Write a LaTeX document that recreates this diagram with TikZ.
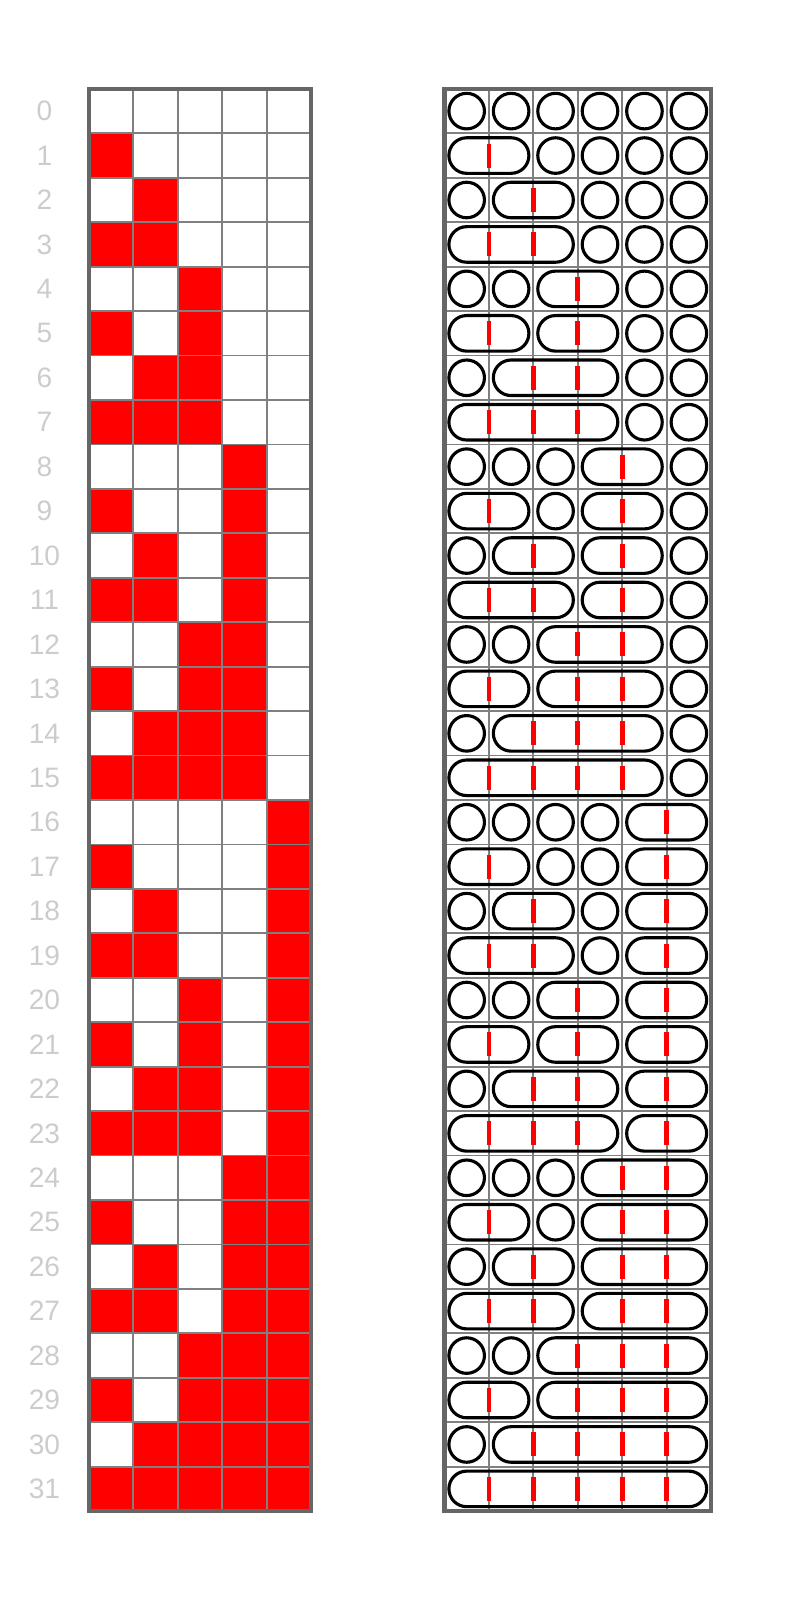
\documentclass[tikz,border=0pt]{standalone}
\usepackage{fontspec}
\setmainfont{Liberation Sans}
\usepackage{tikz}
\tikzset{
  rowlabel/.style={text=black!20, font=\fontsize{18}{18}\selectfont},
  gridline/.style={draw=black!50, line width=1.1pt},
  frame/.style={draw=black!60, line width=3pt},
  part/.style={draw=black, line width=2pt, rounded corners=0.4cm},
  joinbar/.style={draw=red, line width=3pt}
}
\begin{document}
\begin{tikzpicture}
  \useasboundingbox (0,0) rectangle (18,-36);
  % left: bits of each row
  \foreach \n in {0,...,31}{
    \node[rowlabel] (lbl\n) at (1,-2.5-\n) {\n};
    \foreach \j in {0,...,4}{
      \pgfmathtruncatemacro{\b}{mod(floor(\n/2^\j),2)}
      \ifnum\b=1 \fill[red] (2+\j,-2-\n) rectangle ++(1,-1); \fi
    }
  }
  \draw[gridline] (2,-2) grid (7,-34);
  \draw[frame] (2,-2) rectangle (7,-34);
  % right: circles joined where a bit is set
  \draw[gridline] (10,-2) grid (16,-34);
  \draw[frame] (10,-2) rectangle (16,-34);
  \foreach \n in {0,...,31}{
    \foreach \k in {0,...,5}{
      \pgfmathtruncatemacro{\lj}{\k>0 ? mod(floor(\n/2^(\k-1)),2) : 0}
      \ifnum\lj=0
        \pgfmathtruncatemacro{\m}{floor(\n/2^\k)+1}
        \pgfmathtruncatemacro{\t}{(mod(\m,2)==0)+(mod(\m,4)==0)+(mod(\m,8)==0)+(mod(\m,16)==0)+(mod(\m,32)==0)}
        \draw[part] (10.1+\k,-2.9-\n) rectangle (10.9+\k+\t,-2.1-\n);
      \fi
    }
    \foreach \j in {0,...,4}{
      \pgfmathtruncatemacro{\b}{mod(floor(\n/2^\j),2)}
      \ifnum\b=1 \draw[joinbar] (11+\j,-2.23-\n) -- (11+\j,-2.77-\n); \fi
    }
  }
\end{tikzpicture}
\end{document}
